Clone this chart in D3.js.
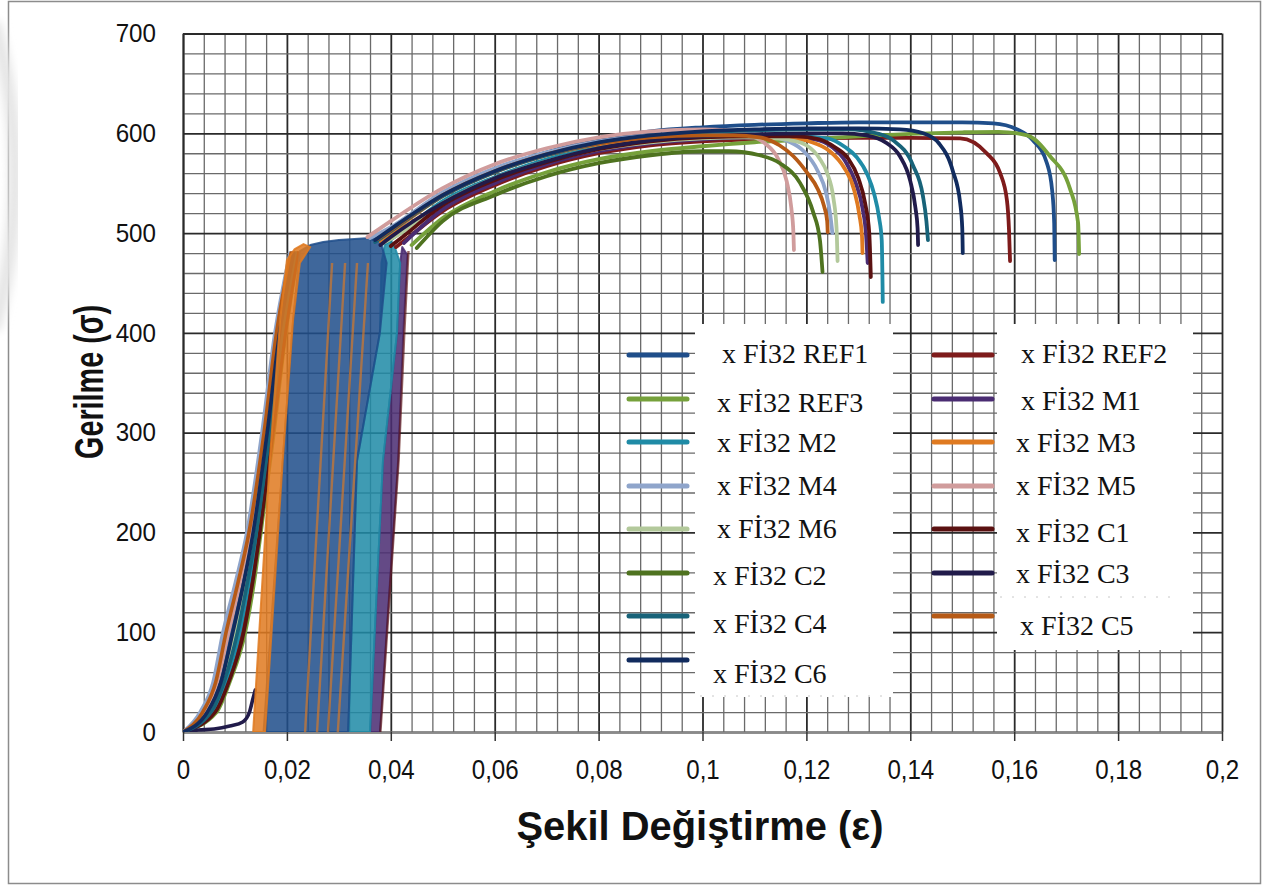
<!DOCTYPE html>
<html>
<head>
<meta charset="utf-8">
<script src="https://cdn.jsdelivr.net/npm/d3@7"></script>
<style>
  html, body { margin: 0; padding: 0; background: #fff; }
  svg { display: block; }
</style>
</head>
<body>
<svg id="chart" width="1263" height="887"></svg>
<script>
// ---------- data ----------
const seriesNames = [
  "x Fİ32 REF1", "x Fİ32 REF2", "x Fİ32 REF3", "x Fİ32 M1", "x Fİ32 M2",
  "x Fİ32 M3", "x Fİ32 M4", "x Fİ32 M5", "x Fİ32 M6", "x Fİ32 C1",
  "x Fİ32 C2", "x Fİ32 C3", "x Fİ32 C4", "x Fİ32 C5", "x Fİ32 C6"
];

const xTickValues = [0, 0.02, 0.04, 0.06, 0.08, 0.1, 0.12, 0.14, 0.16, 0.18, 0.2];
const xTickLabels = ["0", "0,02", "0,04", "0,06", "0,08", "0,1", "0,12", "0,14", "0,16", "0,18", "0,2"];
const yTickValues = [0, 100, 200, 300, 400, 500, 600, 700];

// first loading branch (strain, stress), one entry per series, null where hidden
const loading = [
  [[0,0],[0.0044,20],[0.0069,50],[0.0092,100],[0.0113,150],[0.0132,200],[0.0160,300],[0.0184,400],[0.0212,480]],
  [[0,0],[0.0060,20],[0.0085,50],[0.0113,100],[0.0131,150],[0.0146,200],[0.0171,300],[0.0195,400],[0.0220,480]],
  [[0,0],[0.0065,20],[0.0090,50],[0.0120,100],[0.0137,150],[0.0150,200],[0.0175,300],[0.0198,400],[0.0222,480]],
  null,
  [[0,0],[0.0057,20],[0.0082,50],[0.0109,100],[0.0127,150],[0.0143,200],[0.0169,300],[0.0193,400],[0.0218,480]],
  null,
  [[0,0],[0.0033,20],[0.0058,50],[0.0077,100],[0.0101,150],[0.0123,200],[0.0152,300],[0.0177,400],[0.0206,480]],
  [[0,0],[0.0041,20],[0.0066,50],[0.0088,100],[0.0110,150],[0.0130,200],[0.0158,300],[0.0182,400],[0.0210,480]],
  [[0,0],[0.0051,20],[0.0076,50],[0.0101,100],[0.0120,150],[0.0138,200],[0.0165,300],[0.0189,400],[0.0215,480]],
  [[0,0],[0.0062,20],[0.0088,50],[0.0117,100],[0.0134,150],[0.0148,200],[0.0173,300],[0.0197,400],[0.0221,480]],
  null,
  [[0,0],[0.0030,2],[0.0060,3],[0.0090,6],[0.0115,10],[0.0128,20],[0.0134,32],[0.0139,42]],
  [[0,0],[0.0054,20],[0.0079,50],[0.0105,100],[0.0124,150],[0.0141,200],[0.0167,300],[0.0191,400],[0.0216,480]],
  [[0,0],[0.0038,20],[0.0063,50],[0.0083,100],[0.0106,150],[0.0127,200],[0.0156,300],[0.0180,400],[0.0208,480]],
  [[0,0],[0.0047,20],[0.0073,50],[0.0096,100],[0.0117,150],[0.0135,200],[0.0162,300],[0.0186,400],[0.0213,480]]
];

// extensometer slip zone: outline of the dense saw-tooth region per series
const slipZones = [
  { series: 3, outline: [[0.0360,0],[0.0379,0],[0.0414,272],[0.0424,400],[0.0432,478],[0.0422,486],[0.0418,470],[0.0412,400],[0.0385,272]] },
  { series: 4, outline: [[0.0318,0],[0.0360,0],[0.0385,272],[0.0412,400],[0.0418,470],[0.0405,490],[0.0390,493],[0.0382,470],[0.0379,400],[0.0335,272]] },
  { series: 0, outline: [[0.0155,0],[0.0318,0],[0.0335,272],[0.0379,400],[0.0392,470],[0.0380,492],[0.0360,495],[0.0330,494],[0.0300,493],[0.0270,491],[0.0245,488],[0.0225,482],[0.0212,413],[0.0192,272]] },
  { series: 5, outline: [[0.0135,0],[0.0158,0],[0.0192,272],[0.0212,413],[0.0225,470],[0.0245,486],[0.0232,489],[0.0215,484],[0.0200,473],[0.0187,413],[0.0167,272]] }
];

// single reloading strokes visible inside the slip zone
const reloadStrokes = [
  { series: 5, points: [[0.0235,0],[0.0287,470]] },
  { series: 5, points: [[0.0258,0],[0.0312,470]] },
  { series: 5, points: [[0.0279,0],[0.0335,470]] },
  { series: 5, points: [[0.0298,0],[0.0356,470]] },
  { series: 9, points: [[0.0380,0],[0.0415,272],[0.0426,400],[0.0434,482]] }
];

// hardening + necking branch (strain, stress)
const hardening = [
  [[0.0365,494],[0.040,505],[0.05,540],[0.06,564],[0.07,581],[0.08,594],[0.09,602],[0.10,606],[0.11,608.5],[0.12,610],[0.13,611],[0.14,611],[0.15,611],[0.156,610],[0.1605,604],[0.1636,593],[0.1663,570],[0.1673,543],[0.1677,510],[0.1678,473]],
  [[0.041,486],[0.043,494],[0.05,522],[0.06,548],[0.07,567],[0.08,580],[0.09,588],[0.10,592],[0.11,594],[0.12,595],[0.13,595.5],[0.14,595.5],[0.1496,595],[0.1547,580],[0.1573,560],[0.1586,533],[0.1590,503],[0.1592,472]],
  [[0.044,488],[0.05,515],[0.06,542],[0.07,561],[0.08,574],[0.09,582],[0.10,587],[0.11,591],[0.12,594],[0.13,597],[0.14,599.5],[0.15,601],[0.157,601.5],[0.1625,598],[0.1669,577],[0.1707,545],[0.1723,510],[0.1725,479]],
  [[0.0425,490],[0.05,524],[0.06,550],[0.07,569],[0.08,582],[0.09,590],[0.10,594],[0.11,596],[0.116,596],[0.1216,594],[0.1250,586],[0.1275,572],[0.1295,550],[0.1308,525],[0.1315,497],[0.1318,470]],
  [[0.039,490],[0.042,501],[0.05,532],[0.06,556],[0.07,574],[0.08,586],[0.09,593],[0.10,596],[0.11,597],[0.118,597],[0.124,595],[0.1275,586],[0.1297,576],[0.1318,558],[0.1330,540],[0.1340,515],[0.1345,493],[0.1347,431]],
  [[0.038,492],[0.040,500],[0.05,537],[0.06,561],[0.07,578],[0.08,589],[0.09,595],[0.10,597],[0.11,597],[0.116,596],[0.1205,592],[0.1245,582],[0.1272,566],[0.1292,543],[0.1302,518],[0.1307,497],[0.1308,480]],
  [[0.036,495],[0.040,506],[0.05,541],[0.06,565],[0.07,581],[0.08,592],[0.09,598],[0.10,600],[0.107,600],[0.112,598],[0.1165,592],[0.1195,582],[0.1222,562],[0.1238,540],[0.1246,518],[0.1250,500]],
  [[0.0355,496],[0.040,512],[0.05,545],[0.06,569],[0.07,585],[0.08,596],[0.09,602],[0.10,604],[0.105,603],[0.109,598],[0.112,590],[0.1145,575],[0.1162,552],[0.1171,525],[0.1175,500],[0.1176,483]],
  [[0.0385,490],[0.042,500],[0.05,530],[0.06,555],[0.07,572],[0.08,584],[0.09,591],[0.10,595],[0.108,596],[0.1135,595],[0.117,593],[0.120,588],[0.1225,575],[0.124,560],[0.1252,535],[0.1258,505],[0.1260,472]],
  [[0.040,487],[0.042,495],[0.05,528],[0.06,553],[0.07,571],[0.08,584],[0.09,592],[0.10,596],[0.11,597],[0.118,597],[0.1225,594],[0.1255,586],[0.1280,575],[0.1300,555],[0.1313,530],[0.1321,500],[0.1324,456]],
  [[0.045,485],[0.05,512],[0.06,538],[0.07,557],[0.08,570],[0.09,578],[0.10,582],[0.105,582],[0.111,578],[0.1149,570],[0.1188,550],[0.1213,521],[0.1226,493],[0.1231,461]],
  [[0.038,488],[0.040,496],[0.05,530],[0.06,555],[0.07,572],[0.08,585],[0.09,593],[0.10,597],[0.11,599],[0.12,600],[0.127,600],[0.1315,598],[0.1355,590],[0.138,577],[0.1400,552],[0.1410,525],[0.1414,505],[0.1415,488]],
  [[0.037,491],[0.040,502],[0.05,537],[0.06,561],[0.07,578],[0.08,590],[0.09,597],[0.10,601],[0.11,603],[0.12,604],[0.128,604],[0.1335,600],[0.1367,593],[0.1405,568],[0.1424,538],[0.1431,512],[0.1434,493]],
  [[0.0375,494],[0.040,503],[0.05,538],[0.06,562],[0.07,579],[0.08,590],[0.09,596],[0.10,598],[0.106,598],[0.111,596],[0.1148,588],[0.1175,577],[0.1202,560],[0.1222,544],[0.1234,527],[0.1240,512],[0.1241,501]],
  [[0.037,493],[0.040,504],[0.05,538],[0.06,562],[0.07,579],[0.08,591],[0.09,598],[0.10,602],[0.11,604],[0.12,605],[0.13,605],[0.138,604],[0.1425,600],[0.1455,590],[0.1482,562],[0.1496,530],[0.1500,505],[0.1501,480]]
];

// ---------- styling ----------
const seriesColors = [
  "#1F4E8A", "#7E1B1B", "#76A13B", "#4A2C72", "#1F8BA6",
  "#DF7A21", "#8FA5CB", "#D09C9C", "#B3C99B", "#5A1111",
  "#4F7320", "#211B4A", "#186379", "#B65A16", "#112B5E"
];

const plot = { left: 183, right: 1222, top: 33.5, bottom: 732 };
const svg = d3.select("#chart");

// soft blur for the sheet-edge arc
const defs = svg.append("defs");
defs.append("filter").attr("id", "soft")
  .append("feGaussianBlur").attr("stdDeviation", 4);

// outer frame
svg.append("rect")
  .attr("x", 8.5).attr("y", 1.5).attr("width", 1252).attr("height", 882)
  .attr("fill", "#fff").attr("stroke", "#8c8c8c").attr("stroke-width", 1.5);

// faint arc along the left edge of the sheet
svg.append("path")
  .attr("d", "M -6 22 Q 36 175 -6 330")
  .attr("fill", "none").attr("stroke", "#e6e6e6").attr("stroke-width", 14)
  .attr("filter", "url(#soft)");

const x = d3.scaleLinear().domain([0, 0.2]).range([plot.left, plot.right]);
const y = d3.scaleLinear().domain([0, 700]).range([plot.bottom, plot.top]);
const plotW = plot.right - plot.left, plotH = plot.bottom - plot.top;

// ---------- grid ----------
const minorX = d3.range(51).map(i => i * 0.004);
const minorY = d3.range(36).map(i => i * 20);

const gridX = svg.append("g")
  .attr("transform", `translate(0,${plot.bottom})`)
  .call(d3.axisBottom(x).tickValues(minorX).tickSize(-plotH).tickFormat(""));
gridX.select(".domain").remove();
gridX.selectAll(".tick line")
  .attr("stroke", (d, i) => i % 5 === 0 ? "#2a2a2a" : "#6a6a6a")
  .attr("stroke-width", (d, i) => i % 5 === 0 ? 1.8 : 1.3);

const gridY = svg.append("g")
  .attr("transform", `translate(${plot.left},0)`)
  .call(d3.axisLeft(y).tickValues(minorY).tickSize(-plotW).tickFormat(""));
gridY.select(".domain").remove();
gridY.selectAll(".tick line")
  .attr("stroke", (d, i) => i % 5 === 0 ? "#2a2a2a" : "#6a6a6a")
  .attr("stroke-width", (d, i) => i % 5 === 0 ? 1.8 : 1.3);

// ---------- axes ----------
const tickFont = "'Liberation Sans', Arial, sans-serif";

const xAxis = svg.append("g")
  .attr("transform", `translate(0,${plot.bottom})`)
  .call(d3.axisBottom(x).tickValues(xTickValues)
    .tickFormat((d, i) => xTickLabels[i]).tickSizeInner(9).tickSizeOuter(0).tickPadding(18));
xAxis.select(".domain").attr("stroke", "#8a8a8a").attr("stroke-width", 2);
xAxis.selectAll(".tick line").attr("stroke", "#333").attr("stroke-width", 1.5);
xAxis.selectAll(".tick text")
  .attr("font-family", tickFont).attr("font-size", 28).attr("fill", "#111")
  .each(function () {
    const w = this.getComputedTextLength();
    d3.select(this).attr("textLength", w * 0.86).attr("lengthAdjust", "spacingAndGlyphs");
  });

const yAxis = svg.append("g")
  .attr("transform", `translate(${plot.left},0)`)
  .call(d3.axisLeft(y).tickValues(yTickValues).tickSize(0).tickPadding(27));
yAxis.select(".domain").attr("stroke", "#2a2a2a").attr("stroke-width", 1.8);
yAxis.selectAll(".tick text")
  .attr("font-family", tickFont).attr("font-size", 26).attr("fill", "#111")
  .each(function () {
    const w = this.getComputedTextLength();
    d3.select(this).attr("textLength", w * 0.93).attr("lengthAdjust", "spacingAndGlyphs");
  });

// axis titles
svg.append("text")
  .attr("x", 700).attr("y", 840)
  .attr("text-anchor", "middle")
  .attr("font-family", tickFont)
  .attr("font-weight", "bold").attr("font-size", 40)
  .attr("textLength", 367).attr("lengthAdjust", "spacingAndGlyphs")
  .attr("fill", "#111")
  .text("Şekil Değiştirme (ε)");

svg.append("text")
  .attr("transform", "translate(103,382) rotate(-90)")
  .attr("text-anchor", "middle")
  .attr("font-family", tickFont)
  .attr("font-weight", "bold").attr("font-size", 41)
  .attr("textLength", 154).attr("lengthAdjust", "spacingAndGlyphs")
  .attr("fill", "#111")
  .text("Gerilme (σ)");

// ---------- curves ----------
svg.append("clipPath").attr("id", "plotClip")
  .append("rect").attr("x", plot.left).attr("y", plot.top - 2)
  .attr("width", plotW).attr("height", plotH + 2);

const layer = svg.append("g").attr("clip-path", "url(#plotClip)");

const outline = d3.line().x(d => x(d[0])).y(d => y(d[1]));
const smooth = d3.line().x(d => x(d[0])).y(d => y(d[1])).curve(d3.curveMonotoneX);

layer.selectAll("path.loading")
  .data(loading.map((pts, i) => ({ pts, i })).filter(d => d.pts))
  .join("path")
  .attr("class", "loading")
  .attr("d", d => smooth(d.pts))
  .attr("fill", "none")
  .attr("stroke", d => seriesColors[d.i])
  .attr("stroke-width", 3.6)
  .attr("stroke-linejoin", "round").attr("stroke-linecap", "round");

layer.selectAll("path.zone")
  .data(slipZones).join("path")
  .attr("class", "zone")
  .attr("d", d => outline(d.outline) + "Z")
  .attr("fill", d => seriesColors[d.series])
  .attr("fill-opacity", 0.86)
  .attr("stroke", d => seriesColors[d.series])
  .attr("stroke-opacity", 0.86)
  .attr("stroke-width", 2)
  .attr("stroke-linejoin", "round");

layer.selectAll("path.stroke")
  .data(reloadStrokes).join("path")
  .attr("class", "stroke")
  .attr("d", d => outline(d.points))
  .attr("fill", "none")
  .attr("stroke", d => seriesColors[d.series])
  .attr("stroke-opacity", 0.65)
  .attr("stroke-width", 2.4);

layer.selectAll("path.hardening")
  .data(hardening.map((pts, i) => ({ pts, i })))
  .join("path")
  .attr("class", "hardening")
  .attr("d", d => smooth(d.pts))
  .attr("fill", "none")
  .attr("stroke", d => seriesColors[d.i])
  .attr("stroke-width", 3.8)
  .attr("stroke-linejoin", "round").attr("stroke-linecap", "round");

// ---------- legend ----------
// row layout: left column holds even series indices, right column odd ones
const legendRowsLeft = [355, 399, 442, 486, 529, 573, 616, 660];
const legendRowsRight = [355, 399, 442, 486, 529, 573, 616];
const legendTextLeft = [[722, 363], [717, 412], [717, 452], [717, 495], [717, 538], [713, 585], [713, 633], [713, 683]];
const legendTextRight = [[1021, 363], [1021, 410], [1016, 452], [1016, 495], [1016, 542], [1016, 583], [1020, 635]];

const legend = svg.append("g");
legend.append("rect").attr("x", 695).attr("y", 324).attr("width", 198).attr("height", 373).attr("fill", "#fff");
legend.append("rect").attr("x", 997).attr("y", 324).attr("width", 196).attr("height", 326).attr("fill", "#fff");
legend.append("line").attr("x1", 1000).attr("x2", 1180).attr("y1", 597).attr("y2", 597)
  .attr("stroke", "#c8c8c8").attr("stroke-width", 1).attr("stroke-dasharray", "2,10");
legend.append("line").attr("x1", 700).attr("x2", 885).attr("y1", 696).attr("y2", 696)
  .attr("stroke", "#c8c8c8").attr("stroke-width", 1).attr("stroke-dasharray", "2,10");

const legendItems = seriesNames.map((name, i) => {
  const col = i % 2, row = Math.floor(i / 2);
  return {
    name, i,
    x1: col === 0 ? 629 : 934,
    x2: col === 0 ? 687 : 992,
    ly: col === 0 ? legendRowsLeft[row] : legendRowsRight[row],
    t: col === 0 ? legendTextLeft[row] : legendTextRight[row]
  };
});

legend.selectAll("line.swatch").data(legendItems).join("line")
  .attr("class", "swatch")
  .attr("x1", d => d.x1).attr("x2", d => d.x2)
  .attr("y1", d => d.ly).attr("y2", d => d.ly)
  .attr("stroke", d => seriesColors[d.i])
  .attr("stroke-width", 5).attr("stroke-linecap", "round");

legend.selectAll("text.label").data(legendItems).join("text")
  .attr("class", "label")
  .attr("x", d => d.t[0]).attr("y", d => d.t[1])
  .attr("font-family", "'Liberation Serif', 'Times New Roman', serif")
  .attr("font-size", 28).attr("fill", "#111")
  .text(d => d.name);
</script>
</body>
</html>
